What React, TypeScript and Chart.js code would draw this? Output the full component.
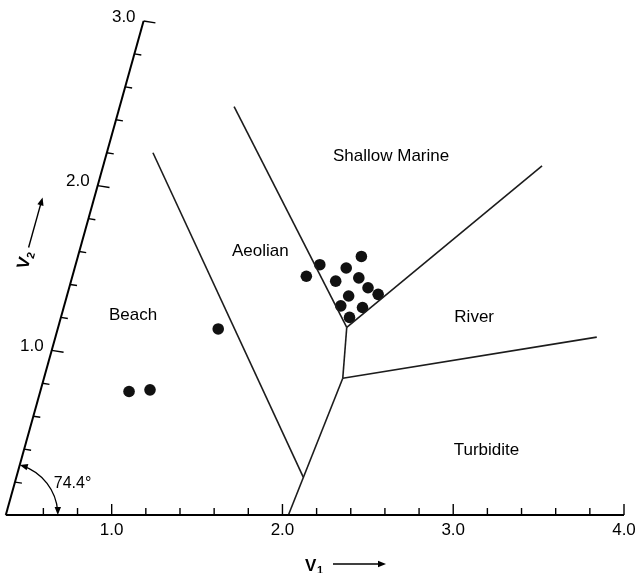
import React, { useEffect, useRef } from "react";
import { Chart, registerables } from "chart.js";
Chart.register(...registerables);

// Oblique axes: V1 horizontal, V2 inclined at 74.4 degrees
const ANGLE_DEG = 74.4;
const V1_ORIGIN = 0.38;
const V1_END = 4.0;
const V2_END = 3.0;

const V1_TICKS = [0.6, 0.8, 1.0, 1.2, 1.4, 1.6, 1.8, 2.0, 2.2, 2.4, 2.6, 2.8, 3.0, 3.2, 3.4, 3.6, 3.8, 4.0];
const V1_LABELS = ["1.0", "2.0", "3.0", "4.0"];
const V1_LABEL_VALUES = [1, 2, 3, 4];
const V2_TICKS = [0.2, 0.4, 0.6, 0.8, 1.0, 1.2, 1.4, 1.6, 1.8, 2.0, 2.2, 2.4, 2.6, 2.8, 3.0];
const V2_LABELS = ["1.0", "2.0", "3.0"];
const V2_LABEL_VALUES = [1, 2, 3];

// Samples (oblique V1, V2)
const sampleV1 = [0.90, 1.02, 1.32, 1.75, 1.81, 2.04, 1.97, 1.93, 2.06, 2.13, 2.03, 2.20, 2.00, 2.13, 2.07];
const sampleV2 = [0.75, 0.76, 1.13, 1.45, 1.52, 1.57, 1.50, 1.42, 1.44, 1.38, 1.33, 1.34, 1.27, 1.26, 1.20];

// Field boundaries (oblique V1, V2 vertices)
const beachAeolian = [[0.65, 2.20], [2.06, 0.23]];
const aeolianMarine = [[1.05, 2.48], [2.07, 1.14]];
const marineRiver = [[2.07, 1.14], [2.95, 2.12]];
const centralStem = [[2.07, 1.14], [2.13, 0.83]];
const riverTurbidite = [[2.13, 0.83], [3.55, 1.08]];
const beachTurbidite = [[2.13, 0.83], [2.035, 0.0]];

const regionNames = ["Beach", "Aeolian", "Shallow Marine", "River", "Turbidite"];
const regionV1 = [0.80, 1.44, 2.05, 2.80, 3.09];
const regionV2 = [1.21, 1.60, 2.18, 1.20, 0.39];

const FONT = '"Liberation Sans", Arial, Helvetica, sans-serif';

export default function App() {
  const ref = useRef<HTMLCanvasElement>(null);
  useEffect(() => {
    const canvas = ref.current!;
    const rad = (ANGLE_DEG * Math.PI) / 180;
    const C = Math.cos(rad);
    const S = Math.sin(rad);
    const toXY = (v1: number, v2: number) => ({ x: v1 + v2 * C, y: v2 * S });

    const boundaries = [beachAeolian, aeolianMarine, marineRiver, centralStem, riverTurbidite, beachTurbidite];
    const lineSets = boundaries.map((b) => ({
      type: "scatter" as const,
      data: b.map(([a, c]) => toXY(a, c)),
      showLine: true,
      borderColor: "#1c1c1c",
      borderWidth: 1.6,
      pointRadius: 0,
      clip: false as any,
    }));
    const pts = sampleV1.map((v, i) => toXY(v, sampleV2[i]));

    const axesPlugin = {
      id: "obliqueAxes",
      afterDraw(chart: any) {
        const ctx = chart.ctx as CanvasRenderingContext2D;
        const xs = chart.scales.x;
        const ys = chart.scales.y;
        const P = (v1: number, v2: number) => {
          const q = toXY(v1, v2);
          return { x: xs.getPixelForValue(q.x), y: ys.getPixelForValue(q.y) };
        };
        ctx.save();
        ctx.strokeStyle = "#000";
        ctx.fillStyle = "#000";
        ctx.lineCap = "butt";
        // V1 axis
        const o = P(V1_ORIGIN, 0);
        const e = P(V1_END, 0);
        ctx.lineWidth = 2;
        ctx.beginPath();
        ctx.moveTo(o.x, o.y);
        ctx.lineTo(e.x, e.y);
        ctx.stroke();
        ctx.lineWidth = 1.4;
        V1_TICKS.forEach((t) => {
          const p = P(t, 0);
          const major = Math.abs(t - Math.round(t)) < 1e-6;
          ctx.beginPath();
          ctx.moveTo(p.x, p.y);
          ctx.lineTo(p.x, p.y - (major ? 11 : 7));
          ctx.stroke();
        });
        ctx.font = `17px ${FONT}`;
        ctx.textAlign = "center";
        ctx.textBaseline = "middle";
        V1_LABEL_VALUES.forEach((v, i) => {
          const p = P(v, 0);
          ctx.fillText(V1_LABELS[i], p.x, p.y + 15);
        });
        // V2 axis
        const top = P(V1_ORIGIN, V2_END);
        ctx.lineWidth = 2;
        ctx.beginPath();
        ctx.moveTo(o.x, o.y);
        ctx.lineTo(top.x, top.y);
        ctx.stroke();
        ctx.lineWidth = 1.4;
        const dx = 0.988, dy = 0.156;
        V2_TICKS.forEach((t) => {
          const p = P(V1_ORIGIN, t);
          const major = Math.abs(t - Math.round(t)) < 1e-6;
          const L = major ? 12 : 7;
          ctx.beginPath();
          ctx.moveTo(p.x, p.y);
          ctx.lineTo(p.x + dx * L, p.y + dy * L);
          ctx.stroke();
        });
        ctx.textAlign = "right";
        V2_LABEL_VALUES.forEach((v, i) => {
          const p = P(V1_ORIGIN, v);
          ctx.fillText(V2_LABELS[i], p.x - 8, p.y - 4);
        });
        // angle arc
        const r = 52;
        ctx.lineWidth = 1.3;
        ctx.beginPath();
        ctx.arc(o.x, o.y, r, -rad + 0.06, -0.07, false);
        ctx.stroke();
        const arrow = (tx: number, ty: number, ux: number, uy: number) => {
          const L = 8, W = 3.2;
          const bx = tx - ux * L, by = ty - uy * L;
          ctx.beginPath();
          ctx.moveTo(tx, ty);
          ctx.lineTo(bx - uy * W, by + ux * W);
          ctx.lineTo(bx + uy * W, by - ux * W);
          ctx.closePath();
          ctx.fill();
        };
        // top arrow on V2 axis pointing along tangent (counter-clockwise)
        arrow(o.x + r * C, o.y - r * S, -S, -C);
        // bottom arrow on V1 axis pointing down
        arrow(o.x + r, o.y, 0, 1);
        ctx.font = `16px ${FONT}`;
        ctx.textAlign = "left";
        ctx.fillText("74.4°", o.x + 48, o.y - 31);
        // Region labels
        ctx.font = `17px ${FONT}`;
        ctx.textAlign = "center";
        regionNames.forEach((n, i) => {
          const p = P(regionV1[i], regionV2[i]);
          ctx.fillText(n, p.x, p.y);
        });
        // V1 axis title
        ctx.textAlign = "left";
        ctx.textBaseline = "alphabetic";
        ctx.font = `bold 17px ${FONT}`;
        const tx = 305, ty = 571;
        ctx.fillText("V", tx, ty);
        ctx.font = `bold 11px ${FONT}`;
        ctx.fillText("1", tx + 12, ty + 3);
        ctx.lineWidth = 1.4;
        ctx.beginPath();
        ctx.moveTo(333, 564);
        ctx.lineTo(380, 564);
        ctx.stroke();
        arrow(386, 564, 1, 0);
        // V2 axis title (rotated along inclined axis)
        ctx.save();
        ctx.translate(27.5, 270);
        ctx.rotate(-rad);
        ctx.font = `bold 17px ${FONT}`;
        ctx.fillText("V", 0, 0);
        ctx.font = `bold 11px ${FONT}`;
        ctx.fillText("2", 12, 3);
        ctx.beginPath();
        ctx.moveTo(22, -5);
        ctx.lineTo(68, -5);
        ctx.stroke();
        arrow(74, -5, 1, 0);
        ctx.restore();
        ctx.restore();
      },
    };

    const chart = new Chart(canvas, {
      type: "scatter",
      data: {
        datasets: [
          ...lineSets,
          {
            type: "scatter",
            data: pts,
            pointRadius: 5.8,
            pointBackgroundColor: "#111",
            pointBorderWidth: 0,
            backgroundColor: "#111",
            clip: false as any,
          },
        ] as any,
      },
      options: {
        animation: false,
        responsive: true,
        maintainAspectRatio: false,
        layout: { padding: { left: 5, right: 17, top: 21, bottom: 58 } },
        scales: {
          x: { type: "linear", min: V1_ORIGIN, max: V1_END, display: false },
          y: { type: "linear", min: 0, max: V2_END * S, display: false },
        },
        plugins: { legend: { display: false }, tooltip: { enabled: false } },
        events: [],
      },
      plugins: [axesPlugin],
    });
    return () => chart.destroy();
  }, []);
  return (
    <div style={{ position: "absolute", left: 0, top: 0, width: 641, height: 573, background: "#fff" }}>
      <canvas ref={ref} />
    </div>
  );
}
